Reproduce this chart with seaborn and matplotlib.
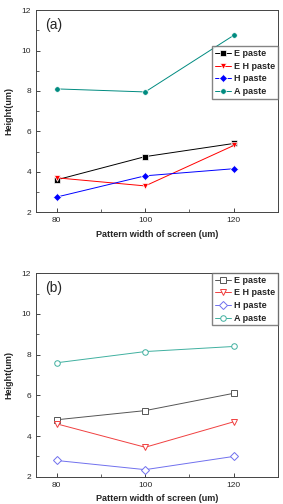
import pandas as pd
import matplotlib.pyplot as plt
import seaborn as sns

# data
widths = [80, 100, 120]
pastes = ['E paste', 'E H paste', 'H paste', 'A paste']

a_e = [3.6, 4.75, 5.4]
a_eh = [3.7, 3.3, 5.3]
a_h = [2.75, 3.8, 4.15]
a_a = [8.1, 7.95, 10.75]

b_e = [4.8, 5.25, 6.1]
b_eh = [4.6, 3.45, 4.7]
b_h = [2.8, 2.35, 3.0]
b_a = [7.6, 8.15, 8.4]


def long_df(series):
    rows = []
    for name, vals in zip(pastes, series):
        for w, v in zip(widths, vals):
            rows.append({'width': w, 'height': v, 'paste': name})
    return pd.DataFrame(rows)


df_a = long_df([a_e, a_eh, a_h, a_a])
df_b = long_df([b_e, b_eh, b_h, b_a])

sns.set_style("ticks")
plt.rcParams['font.family'] = ['Liberation Sans', 'DejaVu Sans']
plt.rcParams['xtick.direction'] = 'in'
plt.rcParams['ytick.direction'] = 'in'

markers = {'E paste': 's', 'E H paste': 'v', 'H paste': 'D', 'A paste': 'o'}
pal_a = {'E paste': 'black', 'E H paste': 'red', 'H paste': 'blue', 'A paste': '#008b80'}
pal_b = {'E paste': '#555555', 'E H paste': '#f04040', 'H paste': '#7070ee', 'A paste': '#40b0a0'}

fig = plt.figure(figsize=(2.83, 5.04), dpi=100)
ax1 = fig.add_axes([0.127, 0.579, 0.855, 0.401])
ax2 = fig.add_axes([0.127, 0.054, 0.855, 0.404])

sns.lineplot(data=df_a, x='width', y='height', hue='paste', style='paste',
             palette=pal_a, markers=markers, dashes=False, ax=ax1,
             linewidth=0.7, markersize=4, markeredgewidth=0.5)
sns.lineplot(data=df_b, x='width', y='height', hue='paste', style='paste',
             palette=pal_b, markers=markers, dashes=False, ax=ax2,
             linewidth=0.7, markersize=4, markerfacecolor='white', markeredgewidth=0.7)

# open markers in (b)
for ln in ax2.get_lines():
    ln.set_markerfacecolor('white')
    ln.set_markeredgecolor(ln.get_color())

for ax, lab in [(ax1, '(a)'), (ax2, '(b)')]:
    ax.set_xlim(75.3, 130)
    ax.set_ylim(2, 12)
    ax.set_xticks([80, 100, 120])
    ax.set_xticks([90, 110, 130], minor=True)
    ax.set_yticks([2, 4, 6, 8, 10, 12])
    ax.set_yticks([3, 5, 7, 9, 11], minor=True)
    ax.tick_params(labelsize=6, length=3, width=0.6)
    ax.tick_params(which='minor', length=2, width=0.5)
    ax.set_xlabel('Pattern width of screen (um)', fontsize=6.5, fontweight='bold', labelpad=4)
    ax.set_ylabel('Height(um)', fontsize=6.5, fontweight='bold', labelpad=6)
    for s in ax.spines.values():
        s.set_visible(True)
        s.set_linewidth(0.7)
        s.set_color('#444444')
    ax.text(0.04, 0.96, lab, transform=ax.transAxes, fontsize=10, va='top', ha='left')

ax1.legend(title=None, fontsize=6.5, loc='upper right', bbox_to_anchor=(1.0, 0.82),
           frameon=True, fancybox=False, edgecolor='#666666', handlelength=1.8,
           handletextpad=0.3, borderpad=0.3, labelspacing=0.4, borderaxespad=0)
leg2 = ax2.legend(title=None, fontsize=6.5, loc='upper right', bbox_to_anchor=(1.0, 1.0),
                  frameon=True, fancybox=False, edgecolor='#666666', handlelength=1.8,
                  handletextpad=0.3, borderpad=0.3, labelspacing=0.4, borderaxespad=0)
for h in leg2.legend_handles:
    h.set_markerfacecolor('white')
for leg in (ax1.get_legend(), leg2):
    for t in leg.get_texts():
        t.set_fontweight('bold')

plt.savefig('out.png', dpi=100)
